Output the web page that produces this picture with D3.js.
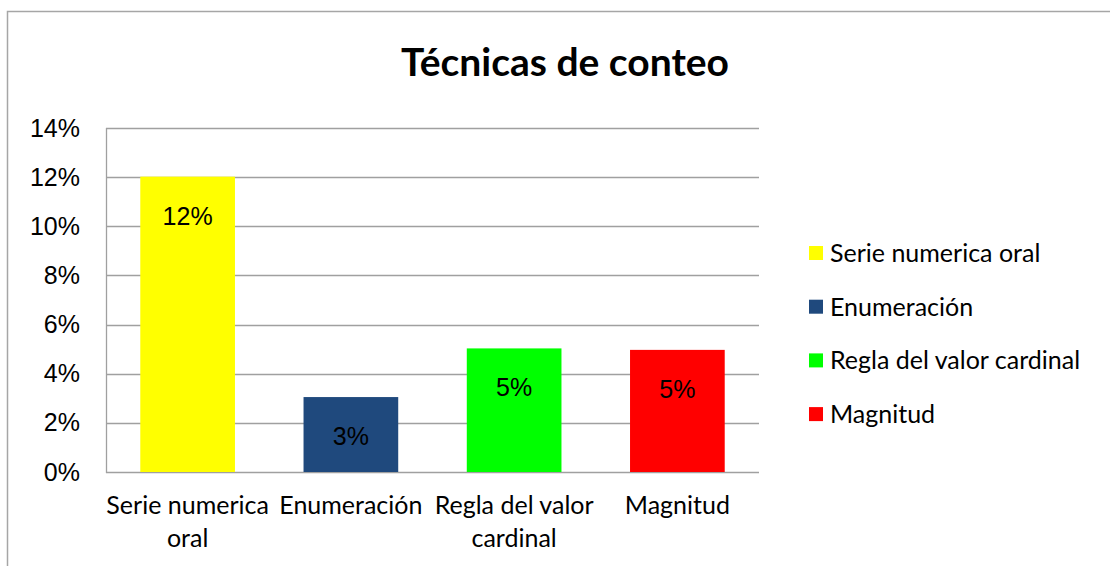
<!DOCTYPE html>
<html>
<head>
<meta charset="utf-8">
<script src="https://cdn.jsdelivr.net/npm/d3@7"></script>
<style>
  body { margin: 0; background: #fff; }
  svg { display: block; }
</style>
</head>
<body>
<svg width="1110" height="566"></svg>
<script>
// Chart data
var categories = ["Serie numerica oral", "Enumeración", "Regla del valor cardinal", "Magnitud"];
var axisLabels = [["Serie numerica", "oral"], ["Enumeración"], ["Regla del valor", "cardinal"], ["Magnitud"]];
var values = [0.1202, 0.0305, 0.0503, 0.0497];
var barLabels = ["12%", "3%", "5%", "5%"];
var colors = ["#FFFF00", "#1F497D", "#00FF00", "#FF0000"];
var yTicks = [0, 0.02, 0.04, 0.06, 0.08, 0.10, 0.12, 0.14];

var svg = d3.select("svg"),
    width = +svg.attr("width"),
    height = +svg.attr("height");

var plot = {left: 106, top: 128, right: 759, bottom: 472};

// outer chart border (runs off right/bottom edge)
svg.append("rect")
    .attr("x", 7.5).attr("y", 11.5)
    .attr("width", width + 20).attr("height", height + 20)
    .attr("fill", "none")
    .attr("stroke", "#a6a6a6")
    .attr("stroke-width", 1.5);

// title
svg.append("text")
    .attr("x", 565).attr("y", 76)
    .attr("text-anchor", "middle")
    .attr("font-family", "Lato, sans-serif")
    .attr("font-weight", "bold")
    .attr("font-size", 39)
    .text("Técnicas de conteo");

var x = d3.scaleBand()
    .domain(categories)
    .range([plot.left, plot.right])
    .paddingInner(0.42)
    .paddingOuter(0.21);

var y = d3.scaleLinear()
    .domain([0, 0.14])
    .range([plot.bottom, plot.top]);

// gridlines
svg.append("g")
    .selectAll("line")
    .data(yTicks)
    .enter().append("line")
    .attr("x1", plot.left).attr("x2", plot.right)
    .attr("y1", d => Math.round(y(d)) + 0.5)
    .attr("y2", d => Math.round(y(d)) + 0.5)
    .attr("stroke", "#a0a0a0")
    .attr("stroke-width", 1.3);

// left plot border
svg.append("line")
    .attr("x1", plot.left + 0.5).attr("x2", plot.left + 0.5)
    .attr("y1", plot.top).attr("y2", plot.bottom + 1)
    .attr("stroke", "#a0a0a0")
    .attr("stroke-width", 1.3);

// y axis labels
var yAxis = d3.axisLeft(y)
    .tickValues(yTicks)
    .tickFormat(d3.format(".0%"))
    .tickSize(0)
    .tickPadding(26);

svg.append("g")
    .attr("transform", "translate(" + plot.left + ",0)")
    .call(yAxis)
    .call(g => g.select(".domain").remove())
    .selectAll("text")
    .attr("font-family", "Liberation Sans, Arial, sans-serif")
    .attr("font-size", 25)
    .attr("fill", "#000");

// bars
svg.append("g")
    .selectAll("rect")
    .data(values)
    .enter().append("rect")
    .attr("x", (d, i) => x(categories[i]))
    .attr("y", d => y(d))
    .attr("width", x.bandwidth())
    .attr("height", d => plot.bottom - y(d))
    .attr("fill", (d, i) => colors[i]);

// bar value labels
svg.append("g")
    .selectAll("text")
    .data(values)
    .enter().append("text")
    .attr("x", (d, i) => x(categories[i]) + x.bandwidth() / 2)
    .attr("y", d => y(d) + 48)
    .attr("text-anchor", "middle")
    .attr("font-family", "Liberation Sans, Arial, sans-serif")
    .attr("font-size", 25)
    .attr("fill", "#000")
    .text((d, i) => barLabels[i]);

// category labels
var catG = svg.append("g")
    .selectAll("text")
    .data(categories)
    .enter().append("text")
    .attr("x", d => x(d) + x.bandwidth() / 2)
    .attr("y", 514)
    .attr("text-anchor", "middle")
    .attr("font-family", "Lato, sans-serif")
    .attr("font-size", 25)
    .attr("fill", "#000");

catG.selectAll("tspan")
    .data((d, i) => axisLabels[i])
    .enter().append("tspan")
    .attr("x", function () { return d3.select(this.parentNode).attr("x"); })
    .attr("dy", (d, i) => i === 0 ? 0 : 33)
    .text(d => d);

// legend
var legend = svg.append("g")
    .selectAll("g")
    .data(categories)
    .enter().append("g")
    .attr("transform", (d, i) => "translate(809," + (253 + i * 53.7) + ")");

legend.append("rect")
    .attr("x", 0).attr("y", -7)
    .attr("width", 14).attr("height", 14)
    .attr("fill", (d, i) => colors[i]);

legend.append("text")
    .attr("x", 21).attr("y", 9)
    .attr("font-family", "Lato, sans-serif")
    .attr("font-size", 25)
    .attr("fill", "#000")
    .text(d => d);
</script>
</body>
</html>
